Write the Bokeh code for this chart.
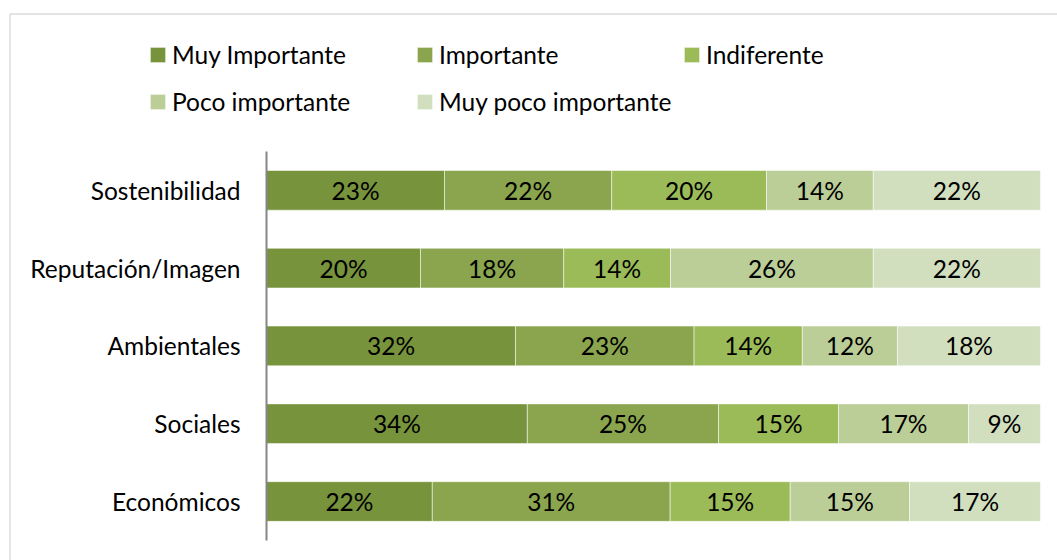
from bokeh.plotting import figure
from bokeh.models import ColumnDataSource, Range1d, BoxAnnotation, Legend, LegendItem
from bokeh.core.properties import value
from bokeh.embed import file_html
from bokeh.resources import INLINE

categories = ["Económicos", "Sociales", "Ambientales", "Reputación/Imagen", "Sostenibilidad"]
series = ["Muy Importante", "Importante", "Indiferente", "Poco importante", "Muy poco importante"]

# share of answers per category (%)
muy_importante = [21.4, 33.7, 32.2, 19.9, 23.0]
importante = [30.7, 24.7, 23.1, 18.5, 21.6]
indiferente = [15.5, 15.5, 14.0, 13.8, 20.0]
poco_importante = [15.4, 16.8, 12.3, 26.2, 13.8]
muy_poco_importante = [16.9, 9.3, 18.5, 21.6, 21.6]

# percentages printed on the bars
lab_muy_importante = ["22%", "34%", "32%", "20%", "23%"]
lab_importante = ["31%", "25%", "23%", "18%", "22%"]
lab_indiferente = ["15%", "15%", "14%", "14%", "20%"]
lab_poco_importante = ["15%", "17%", "12%", "26%", "14%"]
lab_muy_poco_importante = ["17%", "9%", "18%", "22%", "22%"]

colors = ["#77933C", "#8AA54E", "#9BBB59", "#BBCE97", "#D2DFBF"]
FONT = "Lato"
FS = "24.5px"

keys = ["s0", "s1", "s2", "s3", "s4"]
vals = [muy_importante, importante, indiferente, poco_importante, muy_poco_importante]
labs = [lab_muy_importante, lab_importante, lab_indiferente, lab_poco_importante, lab_muy_poco_importante]

ypos = [i + 0.5 for i in range(len(categories))]
totals = [sum(v[i] for v in vals) for i in range(len(categories))]
data = {"y": ypos, "cat": categories}
for k, v in zip(keys, vals):
    data[k] = [x / t * 100 for x, t in zip(v, totals)]
source = ColumnDataSource(data)

W, H = 1057, 560
p = figure(width=W, height=H, x_range=Range1d(-34.37, 102.2), y_range=Range1d(-0.258, 6.94),
           output_backend="svg", toolbar_location=None,
           min_border_left=0, min_border_right=0, min_border_top=0, min_border_bottom=0)
p.outline_line_color = None
p.grid.visible = False
p.axis.visible = False

rs = p.hbar_stack(keys, y="y", height=0.51, color=colors, source=source,
                  line_color="white", line_alpha=0.5, line_width=1)

# category axis: line and labels
p.segment(x0=[0], y0=[0], x1=[0], y1=[len(categories)], line_color="#868686", line_width=2)
p.text(x=[0] * len(categories), y=ypos, text=categories, x_offset=-26,
       text_align="right", text_baseline="middle",
       text_font=value(FONT), text_font_size=FS, text_color="black")

# bar labels
lx, ly, lt = [], [], []
for i, yy in enumerate(ypos):
    left = 0.0
    for k, lab in zip(keys, labs):
        w = data[k][i]
        lx.append(left + w / 2)
        ly.append(yy)
        lt.append(lab[i])
        left += w
p.text(x=lx, y=ly, text=lt, text_align="center", text_baseline="middle",
       text_font=value(FONT), text_font_size=FS, text_color="black")

# legend: 3 columns, filled row by row (Bokeh fills column by column)
items = [LegendItem(label=s, renderers=[r]) for s, r in zip(series, rs)]
order = [0, 3, 1, 4, 2]
legend = Legend(items=[items[i] for i in order],
                ncols=3, location=(148, 435.5), glyph_width=19, glyph_height=19,
                label_standoff=5, label_width=243, label_height=47, spacing=0,
                padding=0, margin=0, border_line_alpha=0, background_fill_alpha=0,
                label_text_font=FONT, label_text_font_size=FS, label_text_color="black")
p.add_layout(legend, "center")

border = BoxAnnotation(left=9.5, right=W + 50, top=H - 13.5, bottom=-50,
                       left_units="screen", right_units="screen",
                       top_units="screen", bottom_units="screen",
                       fill_alpha=0, line_color="#8C8C8C", line_width=1.5)
p.add_layout(border)

open("out.html", "w").write(file_html(p, INLINE))
